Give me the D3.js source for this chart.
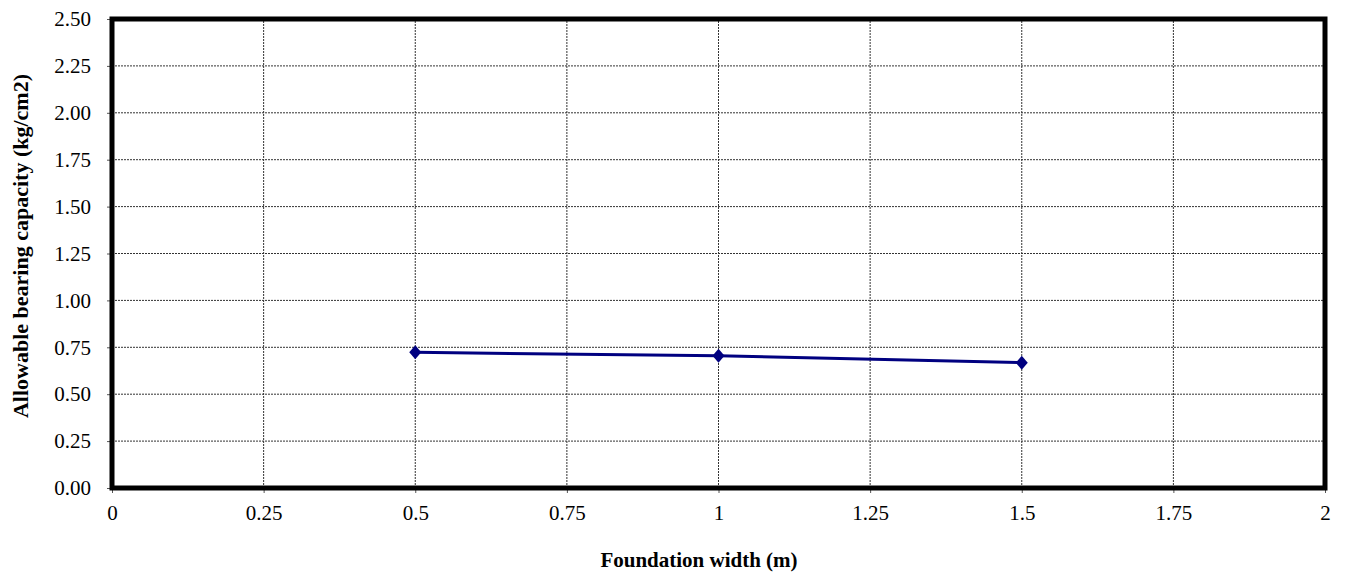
<!DOCTYPE html>
<html>
<head>
<meta charset="utf-8">
<script src="https://cdn.jsdelivr.net/npm/d3@7"></script>
<style>
  html, body { margin: 0; padding: 0; background: #fff; }
  svg { display: block; font-family: "Liberation Serif", "Times New Roman", serif; }
</style>
</head>
<body>
<svg id="chart" width="1349" height="577"></svg>
<script>
// Foundation width (m) vs allowable bearing capacity (kg/cm2)
const widths = [0.5, 1, 1.5];
const capacity = [0.723, 0.705, 0.668];
const xTicks = [0, 0.25, 0.5, 0.75, 1, 1.25, 1.5, 1.75, 2];
const yTicks = [0, 0.25, 0.5, 0.75, 1, 1.25, 1.5, 1.75, 2, 2.25, 2.5];

const svg = d3.select("#chart");
const margin = { left: 112, right: 1349 - 1325, top: 19, bottom: 577 - 488 };
const W = 1349, H = 577;

const x = d3.scaleLinear().domain([0, 2]).range([margin.left, W - margin.right]);
const y = d3.scaleLinear().domain([0, 2.5]).range([H - margin.bottom, margin.top]);

// gridlines
const grid = svg.append("g");
grid.selectAll(".hg").data(yTicks.slice(1, -1)).join("line")
  .attr("x1", x(0)).attr("x2", x(2))
  .attr("y1", d => y(d)).attr("y2", d => y(d))
  .attr("stroke", "#333").attr("stroke-width", 1).attr("stroke-dasharray", "2,1");
grid.selectAll(".vg").data(xTicks.slice(1, -1)).join("line")
  .attr("y1", y(0)).attr("y2", y(2.5))
  .attr("x1", d => x(d)).attr("x2", d => x(d))
  .attr("stroke", "#333").attr("stroke-width", 1).attr("stroke-dasharray", "2,1");

// axes
const fmtY = d3.format(".2f");
const yAxis = svg.append("g").attr("transform", `translate(${x(0)},0)`)
  .call(d3.axisLeft(y).tickValues(yTicks).tickFormat(fmtY).tickSize(5).tickPadding(16));
const xAxis = svg.append("g").attr("transform", `translate(0,${y(0)})`)
  .call(d3.axisBottom(x).tickValues(xTicks).tickFormat(d => String(d)).tickSize(5).tickPadding(12));
[yAxis, xAxis].forEach(a => {
  a.select(".domain").remove();
  a.selectAll(".tick line").attr("stroke", "#555");
  a.selectAll(".tick text").attr("font-size", 21).attr("fill", "#000")
    .attr("font-family", "'Liberation Serif', 'Times New Roman', serif");
});

// plot frame
svg.append("rect")
  .attr("x", x(0)).attr("y", y(2.5))
  .attr("width", x(2) - x(0)).attr("height", y(0) - y(2.5))
  .attr("fill", "none").attr("stroke", "#000").attr("stroke-width", 5);

// series line
const pts = widths.map((w, i) => [w, capacity[i]]);
svg.append("path").datum(pts)
  .attr("fill", "none").attr("stroke", "#000080").attr("stroke-width", 3)
  .attr("d", d3.line().x(d => x(d[0])).y(d => y(d[1])));

svg.selectAll(".mk").data(pts).join("path")
  .attr("transform", d => `translate(${x(d[0])},${y(d[1])})`)
  .attr("d", "M0,-7L6,0L0,7L-6,0Z")
  .attr("fill", "#000080");

// axis titles
svg.append("text")
  .attr("x", 699).attr("y", 567)
  .attr("text-anchor", "middle").attr("font-size", 21).attr("font-weight", "bold")
  .text("Foundation width (m)");
svg.append("text")
  .attr("transform", `translate(28,246) rotate(-90)`)
  .attr("text-anchor", "middle").attr("font-size", 22).attr("font-weight", "bold")
  .text("Allowable bearing capacity (kg/cm2)");
</script>
</body>
</html>
